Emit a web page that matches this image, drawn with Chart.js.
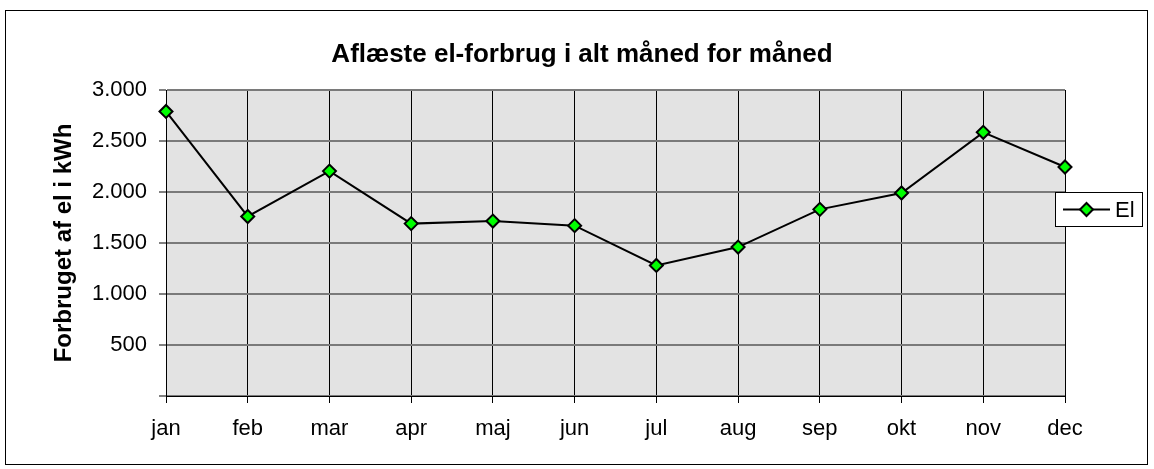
<!DOCTYPE html>
<html><head><meta charset="utf-8">
<script src="https://cdn.jsdelivr.net/npm/chart.js@4.4.0/dist/chart.umd.min.js"></script>
<style>html,body{margin:0;padding:0;background:#fff;}canvas{display:block;}</style>
</head><body>
<canvas id="c" width="1154" height="469" style="width:1154px;height:469px"></canvas>
<script>
const months = ['jan','feb','mar','apr','maj','jun','jul','aug','sep','okt','nov','dec'];
const elValues = [2790, 1760, 2205, 1690, 1715, 1670, 1280, 1460, 1830, 1990, 2585, 2245];
const seriesName = 'El';
const chartTitle = 'Aflæste el-forbrug i alt måned for måned';
const yAxisTitle = 'Forbruget af el i kWh';
const yMin = 0, yMax = 3000, yStep = 500;

const FONT = "'Liberation Sans', Arial, sans-serif";
function fmt(v){ if (v === 0) return ''; return String(v).replace(/\B(?=(\d{3})+(?!\d))/g, '.'); }

const framePlugin = {
  id: 'frame',
  beforeDraw(chart){
    const ctx = chart.ctx, a = chart.chartArea;
    ctx.save();
    ctx.fillStyle = '#fff';
    ctx.fillRect(0,0,chart.width,chart.height);
    ctx.strokeStyle = '#000'; ctx.lineWidth = 1;
    ctx.strokeRect(5.5, 10.5, 1142, 454);
    ctx.fillStyle = '#e3e3e3';
    ctx.fillRect(a.left, a.top, a.right - a.left, a.bottom - a.top);
    ctx.restore();
  },
  afterDraw(chart){
    const ctx = chart.ctx;
    ctx.save();
    // title
    ctx.fillStyle = '#000';
    ctx.font = "bold 26px " + FONT;
    ctx.textAlign = 'center'; ctx.textBaseline = 'alphabetic';
    ctx.fillText(chartTitle, 582, 62);
    // legend
    const ds = chart.data.datasets[0];
    const bx = 1055.5, by = 192.5, bw = 87, bh = 34;
    ctx.fillStyle = '#fff'; ctx.fillRect(bx, by, bw, bh);
    ctx.strokeStyle = '#000'; ctx.lineWidth = 1; ctx.strokeRect(bx, by, bw, bh);
    const cy = by + bh/2;
    ctx.strokeStyle = ds.borderColor; ctx.lineWidth = ds.borderWidth;
    ctx.beginPath(); ctx.moveTo(1063, cy); ctx.lineTo(1110, cy); ctx.stroke();
    ctx.fillStyle = ds.pointBackgroundColor; ctx.strokeStyle = ds.pointBorderColor; ctx.lineWidth = ds.pointBorderWidth;
    ctx.beginPath();
    const r = ds.pointRadius, px = 1086.5;
    ctx.moveTo(px - r, cy); ctx.lineTo(px, cy - r); ctx.lineTo(px + r, cy); ctx.lineTo(px, cy + r); ctx.closePath();
    ctx.fill(); ctx.stroke();
    ctx.fillStyle = '#000';
    ctx.font = "22px " + FONT;
    ctx.textAlign = 'left'; ctx.textBaseline = 'middle';
    ctx.fillText(ds.label, 1115, cy + 1);
    ctx.restore();
  }
};

new Chart(document.getElementById('c'), {
  type: 'line',
  data: {
    labels: months,
    datasets: [{
      label: seriesName,
      data: elValues,
      borderColor: '#000',
      borderWidth: 2,
      tension: 0,
      pointStyle: 'rectRot',
      pointRadius: 6.5,
      pointBorderWidth: 2,
      pointBackgroundColor: '#00ff00',
      pointBorderColor: '#000',
      clip: false
    }]
  },
  options: {
    responsive: false,
    animation: false,
    devicePixelRatio: 1,
    layout: { padding: { top: 90, left: 48, right: 89, bottom: 10 } },
    plugins: { legend: { display: false }, title: { display: false }, tooltip: { enabled: false } },
    scales: {
      x: {
        type: 'category',
        offset: false,
        afterFit(s){ s.height = 63; },
        grid: { color: '#000', lineWidth: 1, tickLength: 7, tickColor: '#000' },
        border: { color: '#000', width: 1 },
        ticks: { color: '#000', font: { family: FONT, size: 22 }, padding: 13, maxRotation: 0, autoSkip: false }
      },
      y: {
        min: yMin, max: yMax,
        afterFit(s){ s.width = 118; },
        grid: { color: '#7a7a7a', lineWidth: 2, tickLength: 7, tickColor: '#000', tickWidth: 1 },
        border: { color: '#000', width: 1 },
        ticks: { stepSize: yStep, color: '#000', font: { family: FONT, size: 22 }, padding: 12, callback: (v) => fmt(v) },
        title: { display: true, text: yAxisTitle, color: '#000', font: { family: FONT, size: 24, weight: 'bold' }, padding: { top: 2, bottom: 0 } }
      }
    }
  },
  plugins: [framePlugin]
});
</script>
</body></html>
